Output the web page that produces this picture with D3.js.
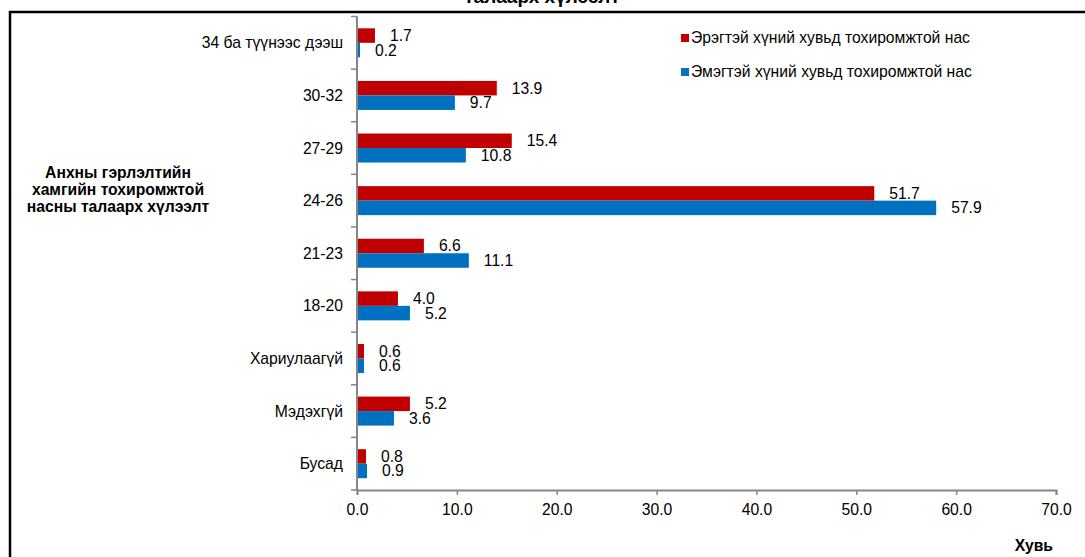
<!DOCTYPE html>
<html><head><meta charset="utf-8">
<script src="https://cdn.jsdelivr.net/npm/d3@7"></script>
<style>body{margin:0;background:#fff;} svg{display:block;font-family:"Liberation Sans",Arial,sans-serif;}</style>
</head><body>
<script>
const categories = ["34 ба түүнээс дээш","30-32","27-29","24-26","21-23","18-20","Хариулаагүй","Мэдэхгүй","Бусад"];
const maleValues = [1.7,13.9,15.4,51.7,6.6,4.0,0.6,5.2,0.8];
const femaleValues = [0.2,9.7,10.8,57.9,11.1,5.2,0.6,3.6,0.9];
const seriesNames = ["Эрэгтэй хүний хувьд тохиромжтой нас","Эмэгтэй хүний хувьд тохиромжтой нас"];
const xTicks = [0,10,20,30,40,50,60,70];
const titleText = "талаарх хүлээлт";
const yTitleLines = ["Анхны гэрлэлтийн","хамгийн тохиромжтой","насны талаарх хүлээлт"];
const xTitle = "Хувь";
const colors = ["#C00000","#0070C0"];

const W=1085,H=557;
const FS=15.7;
const svg=d3.select("body").append("svg").attr("width",W).attr("height",H);
svg.append("rect").attr("x",10).attr("y",12).attr("width",1090).attr("height",560)
  .attr("fill","none").attr("stroke","#000").attr("stroke-width",2.5);
svg.append("text").attr("x",542).attr("y",3).attr("text-anchor","middle")
  .attr("font-weight","bold").attr("font-size",19).text(titleText);

const x=d3.scaleLinear().domain([0,70]).range([357,1056]);
const y=d3.scaleBand().domain(categories).range([16.5,490]);

const axisColor="#868686";
// x axis
const gx=svg.append("g").attr("transform","translate(0,490)")
  .call(d3.axisBottom(x).tickValues(xTicks).tickFormat(d3.format(".1f")).tickSizeOuter(0).tickSize(5).tickPadding(9));
gx.select(".domain").attr("stroke",axisColor).attr("stroke-width",2);
gx.selectAll(".tick line").attr("stroke",axisColor).attr("stroke-width",1.5);
gx.selectAll("text").attr("font-size",FS).attr("fill","#000").attr("font-family","Liberation Sans, Arial, sans-serif");
// y axis
svg.append("line").attr("x1",357).attr("x2",357).attr("y1",16.5).attr("y2",490)
  .attr("stroke",axisColor).attr("stroke-width",2);
const bounds=categories.map(c=>y(c)).concat([490]);
svg.selectAll(".ytick").data(bounds).join("line")
  .attr("x1",351).attr("x2",357).attr("y1",d=>d).attr("y2",d=>d)
  .attr("stroke",axisColor).attr("stroke-width",1.5);
svg.selectAll(".ylab").data(categories).join("text")
  .attr("x",343).attr("y",c=>y(c)+y.bandwidth()/2).attr("dy","0.35em")
  .attr("text-anchor","end").attr("font-size",FS).text(c=>c);

const bh=14.5;
const series=[maleValues,femaleValues];
series.forEach((vals,si)=>{
  const g=svg.append("g");
  g.selectAll("rect").data(vals).join("rect")
    .attr("x",x(0)+1).attr("y",(d,i)=>y(categories[i])+y.bandwidth()/2-bh+si*bh)
    .attr("width",d=>Math.max(0,x(d)-x(0))).attr("height",bh)
    .attr("fill",colors[si]);
  g.selectAll("text").data(vals).join("text")
    .attr("x",d=>x(d)+16).attr("y",(d,i)=>y(categories[i])+y.bandwidth()/2-bh/2+si*bh)
    .attr("dy","0.35em").attr("font-size",FS).text(d=>d.toFixed(1));
});

// legend
seriesNames.forEach((n,i)=>{
  const ly=38+i*34;
  svg.append("rect").attr("x",681).attr("y",ly-4).attr("width",8).attr("height",8).attr("fill",colors[i]);
  svg.append("text").attr("x",691).attr("y",ly).attr("dy","0.35em").attr("font-size",FS).text(n);
});

// y title
svg.append("text").attr("x",118).attr("y",178).attr("text-anchor","middle")
  .attr("font-weight","bold").attr("font-size",FS)
  .selectAll("tspan").data(yTitleLines).join("tspan")
  .attr("x",118).attr("dy",(d,i)=>i?17:0).text(d=>d);
svg.append("text").attr("x",1053).attr("y",551).attr("text-anchor","end")
  .attr("font-weight","bold").attr("font-size",FS).text(xTitle);
</script>
</body></html>
